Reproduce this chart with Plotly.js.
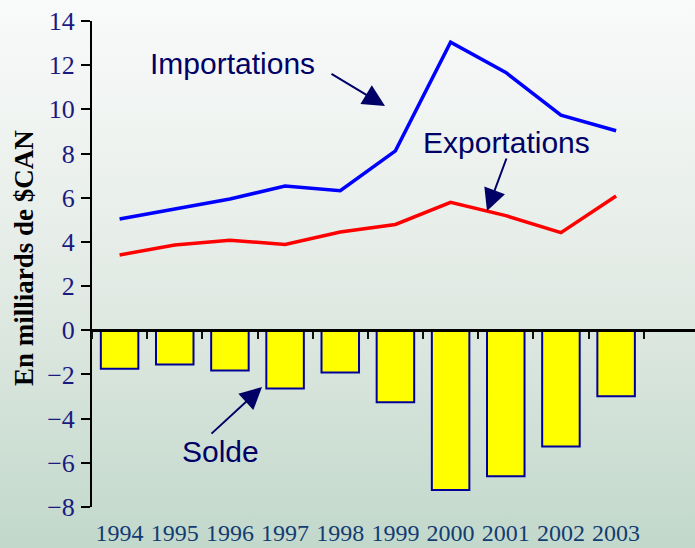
<!DOCTYPE html>
<html>
<head>
<meta charset="utf-8">
<script src="https://cdn.plot.ly/plotly-3.0.1.min.js"></script>
<style>
  html, body { margin: 0; padding: 0; }
  body { width: 695px; height: 548px; background: linear-gradient(to bottom, #f9fafa 0%, #e6ede8 45%, #c2d8cb 100%); }
  #chart { width: 695px; height: 548px; }
</style>
</head>
<body>
<div id="chart"></div>
<script>
const years = [1994, 1995, 1996, 1997, 1998, 1999, 2000, 2001, 2002, 2003];
const yearLabels = ['1994', '1995', '1996', '1997', '1998', '1999', '2000', '2001', '2002', '2003'];
const importations = [5.04, 5.49, 5.94, 6.53, 6.32, 8.12, 13.04, 11.67, 9.74, 9.03];
const exportations = [3.41, 3.86, 4.08, 3.88, 4.45, 4.79, 5.79, 5.19, 4.42, 6.08];
const solde = [-1.74, -1.55, -1.82, -2.64, -1.91, -3.26, -7.23, -6.61, -5.26, -2.99];
const yTicks = [-8, -6, -4, -2, 0, 2, 4, 6, 8, 10, 12, 14];

const yMin = -8, yMax = 14;
const xMin = 1993.5, xMax = 2004.43;
const navy = '#000066';

const traces = [
  { type: 'bar', x: years, y: solde, width: 0.68, xaxis: 'x', yaxis: 'y',
    marker: { color: '#ffff00', line: { color: '#000099', width: 2 } }, hoverinfo: 'skip' },
  { type: 'scatter', mode: 'lines', x: years, y: importations, xaxis: 'x2', yaxis: 'y',
    line: { color: '#0000ff', width: 3.5 } },
  { type: 'scatter', mode: 'lines', x: years, y: exportations, xaxis: 'x2', yaxis: 'y',
    line: { color: '#ff0000', width: 3.5 } }
];

const annFont = { family: 'Liberation Sans, Arial, sans-serif', size: 30, color: navy };
function px2x(px) { return (px - 92) / 603; }
function px2y(py) { return (507 - py) / 486; }

const layout = {
  width: 695, height: 548,
  margin: { l: 92, r: 0, t: 21, b: 41 },
  paper_bgcolor: 'rgba(0,0,0,0)',
  plot_bgcolor: 'rgba(0,0,0,0)',
  showlegend: false,
  xaxis: {
    type: 'linear', range: [xMin, xMax],
    tickvals: years, ticktext: yearLabels,
    ticks: '', showline: false, showgrid: false, zeroline: false,
    tickfont: { family: 'Liberation Serif, Times New Roman, serif', size: 24, color: '#123c72' },
    ticklabelstandoff: 9
  },
  xaxis2: {
    type: 'linear', range: [xMin, xMax], overlaying: 'x',
    anchor: 'free', position: (0 - yMin) / (yMax - yMin),
    tick0: 1993.5, dtick: 1, tickmode: 'linear',
    ticks: 'outside', ticklen: 7, tickwidth: 2, tickcolor: '#111',
    showline: true, linecolor: '#000', linewidth: 2.5,
    showticklabels: false, showgrid: false, zeroline: false
  },
  yaxis: {
    range: [yMin, yMax], tickvals: yTicks,
    ticks: 'outside', ticklen: 9, tickwidth: 2, tickcolor: '#000',
    showline: true, linecolor: '#000', linewidth: 2,
    showgrid: false, zeroline: false,
    tickfont: { family: 'Liberation Serif, Times New Roman, serif', size: 26, color: '#1a1a80' },
    ticklabelstandoff: 1
  },
  annotations: [
    { xref: 'paper', yref: 'paper', x: px2x(232), y: px2y(64), text: 'Importations',
      showarrow: false, font: annFont, xanchor: 'center', yanchor: 'middle' },
    { xref: 'paper', yref: 'paper', x: px2x(506), y: px2y(142), text: 'Exportations',
      showarrow: false, font: annFont, xanchor: 'center', yanchor: 'middle' },
    { xref: 'paper', yref: 'paper', x: px2x(220), y: px2y(451), text: 'Solde',
      showarrow: false, font: annFont, xanchor: 'center', yanchor: 'middle' },
    { xref: 'paper', yref: 'paper', x: px2x(385), y: px2y(106), text: '', showarrow: true,
      ax: -55, ay: -33, arrowhead: 2, arrowsize: 2.2, arrowwidth: 2, arrowcolor: navy, font: { size: 1 } },
    { xref: 'paper', yref: 'paper', x: px2x(487), y: px2y(211), text: '', showarrow: true,
      ax: 20, ay: -54, arrowhead: 2, arrowsize: 2.2, arrowwidth: 2, arrowcolor: navy, font: { size: 1 } },
    { xref: 'paper', yref: 'paper', x: px2x(262), y: px2y(387), text: '', showarrow: true,
      ax: -52, ay: 48, arrowhead: 2, arrowsize: 2.2, arrowwidth: 2, arrowcolor: navy, font: { size: 1 } },
    { xref: 'paper', yref: 'paper', x: -92 / 603 + 24 / 603, y: px2y(258), text: '<b>En milliards de $CAN</b>',
      textangle: -90, showarrow: false, xanchor: 'center', yanchor: 'middle',
      font: { family: 'Liberation Serif, Times New Roman, serif', size: 27, color: '#000' } }
  ]
};

Plotly.newPlot('chart', traces, layout, { displayModeBar: false, staticPlot: true });
</script>
</body>
</html>
